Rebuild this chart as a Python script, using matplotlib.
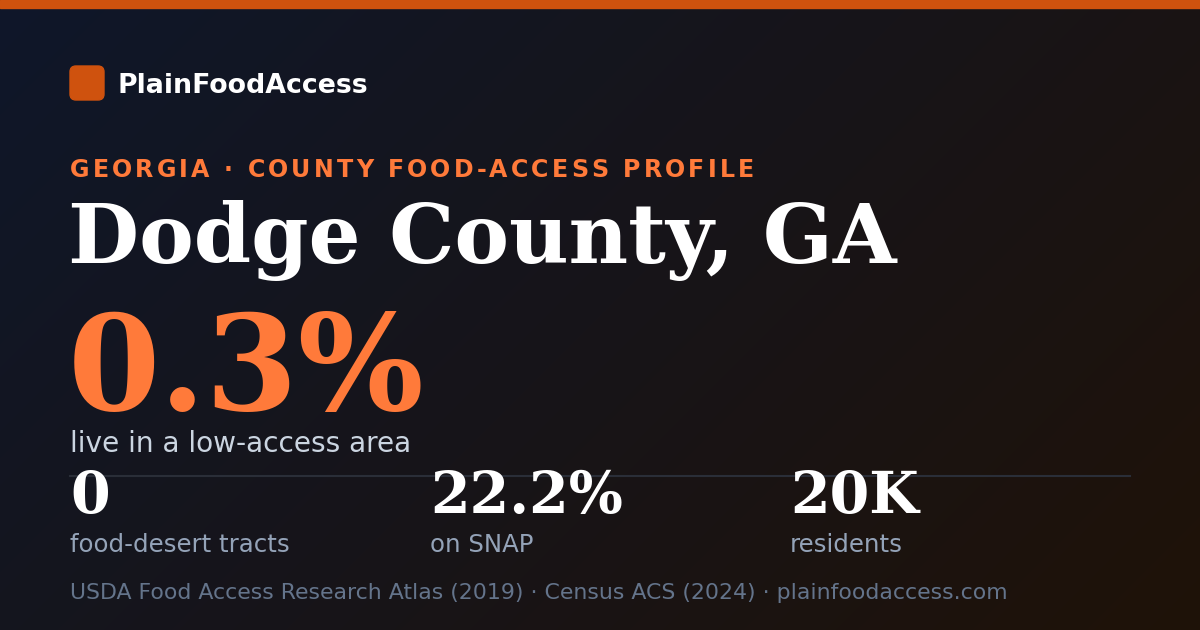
import numpy as np
import matplotlib
matplotlib.use('Agg')
import matplotlib.pyplot as plt
from matplotlib.patches import FancyBboxPatch, Rectangle
from matplotlib import font_manager
from matplotlib.ft2font import FT2Font

brand = 'PlainFoodAccess'
kicker = 'GEORGIA \u00b7 COUNTY FOOD-ACCESS PROFILE'
county = 'Dodge County, GA'
headline_value = '0.3%'
headline_label = 'live in a low-access area'
stat_values = ['0', '22.2%', '20K']
stat_labels = ['food-desert tracts', 'on SNAP', 'residents']
source = 'USDA Food Access Research Atlas (2019) \u00b7 Census ACS (2024) \u00b7 plainfoodaccess.com'

W, H, DPI = 1200, 630, 100
ORANGE = '#ff7a3a'
ORANGE_DARK = '#cf520e'


def spaced_text(ax, x, y, s, size, spacing, color, weight='bold'):
    # matplotlib has no letter-spacing, so place glyphs one at a time
    path = font_manager.findfont(font_manager.FontProperties(family='DejaVu Sans', weight=weight))
    font = FT2Font(path)
    font.set_size(size, DPI)
    for ch in s:
        ax.text(x, y, ch, fontsize=size, color=color, fontweight=weight,
                family='DejaVu Sans', va='baseline', ha='left')
        x += font.load_char(ord(ch)).linearHoriAdvance / 65536 + spacing


fig = plt.figure(figsize=(W / DPI, H / DPI), dpi=DPI)
ax = fig.add_axes([0, 0, 1, 1])
ax.set_xlim(0, W)
ax.set_ylim(H, 0)
ax.axis('off')

# 135deg background gradient, navy top-left to dark brown bottom-right
c0 = np.array([15, 23, 42]) / 255
c1 = np.array([31, 18, 8]) / 255
yy, xx = np.mgrid[0:H, 0:W]
t = ((xx - W / 2) + (yy - H / 2)) / (W + H) + 0.5
t = np.clip(t, 0, 1)[..., None]
ax.imshow(c0 * (1 - t) + c1 * t, extent=[0, W, H, 0], aspect='auto', zorder=0)

ax.add_patch(Rectangle((0, 0), W, 8, color=ORANGE_DARK, zorder=2))

ax.add_patch(FancyBboxPatch((70, 66), 34, 34, boxstyle='round,pad=0,rounding_size=6',
                            color=ORANGE_DARK, zorder=2))
ax.text(118, 93, brand, fontsize=19.3, color='white', fontweight='bold',
        family='DejaVu Sans', va='baseline')

spaced_text(ax, 70, 177, kicker, 17.1, 3.1, ORANGE)

ax.text(68, 263, county, fontsize=59, color='white', fontweight='bold',
        family='DejaVu Serif', va='baseline')
ax.text(68, 410, headline_value, fontsize=95.5, color=ORANGE, fontweight='bold',
        family='DejaVu Serif', va='baseline')
ax.text(70, 452, headline_label, fontsize=20.2, color='#cbd5e1',
        family='DejaVu Sans', va='baseline')

ax.plot([70, 1130], [476, 476], color='#2a2e38', lw=1.5, zorder=1)

for i, (v, lab) in enumerate(zip(stat_values, stat_labels)):
    x = 70 + 360 * i
    ax.text(x, 513, v, fontsize=41, color='white', fontweight='bold',
            family='DejaVu Serif', va='baseline', zorder=3)
    ax.text(x, 552, lab, fontsize=17.6, color='#94a3b8',
            family='DejaVu Sans', va='baseline')

ax.text(70, 599, source, fontsize=15.8, color='#64748b',
        family='DejaVu Sans', va='baseline')

fig.savefig('out.png', dpi=DPI)
